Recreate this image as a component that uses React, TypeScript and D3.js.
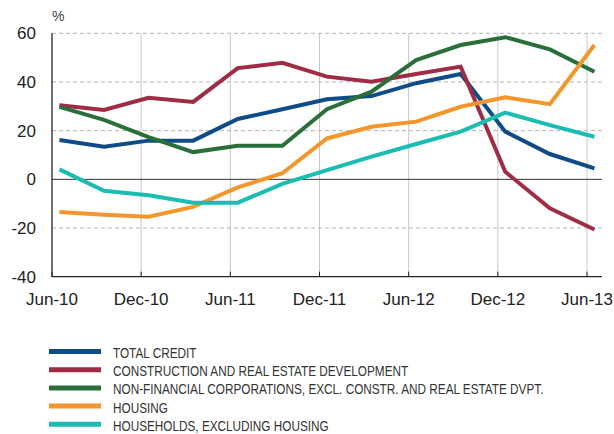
import { useMemo } from "react";
import * as d3 from "d3";

// quarterly observations, Jun-10 .. Jun-13
const periods = ["Jun-10", "Sep-10", "Dec-10", "Mar-11", "Jun-11", "Sep-11", "Dec-11", "Mar-12", "Jun-12", "Sep-12", "Dec-12", "Mar-13", "Jun-13"];
const tickLabels = ["Jun-10", "Dec-10", "Jun-11", "Dec-11", "Jun-12", "Dec-12", "Jun-13"];
const yTicks = [-40, -20, 0, 20, 40, 60];

const totalCredit = [16.2, 13.4, 15.9, 15.9, 24.8, 28.8, 32.9, 34.2, 39.5, 43.3, 19.6, 10.4, 4.5];
const construction = [30.4, 28.5, 33.5, 31.8, 45.7, 47.9, 42.2, 40.1, 43.3, 46.3, 3.1, -11.9, -20.6];
const nonFinancial = [29.8, 24.4, 17.3, 11.2, 13.8, 13.8, 28.8, 36.0, 49.0, 55.2, 58.4, 53.4, 44.2];
const housing = [-13.4, -14.5, -15.4, -11.3, -3.3, 2.5, 16.8, 21.6, 23.7, 29.8, 33.7, 30.9, 55.2];
const households = [4.1, -4.7, -6.5, -9.6, -9.6, -1.9, 3.8, 9.3, 14.5, 19.6, 27.4, 22.3, 17.5];

const seriesNames = [
  "TOTAL CREDIT",
  "CONSTRUCTION AND REAL ESTATE DEVELOPMENT",
  "NON-FINANCIAL CORPORATIONS, EXCL. CONSTR. AND REAL ESTATE DVPT.",
  "HOUSING",
  "HOUSEHOLDS, EXCLUDING HOUSING",
];
const seriesColors = ["#0e4c88", "#9f2b45", "#2a6f3a", "#f4962b", "#19bdb2"];

const W = 614;
const H = 434;
const FONT = "Liberation Sans, Arial, sans-serif";

export default function App() {
  const series = [totalCredit, construction, nonFinancial, housing, households];

  // month index: ticks at start of month (0, 6, ...), points at mid-month
  const x = d3.scaleLinear().domain([0, 36]).range([52, 587]);
  const y = d3.scaleLinear().domain([-40, 60]).range([276.7, 33.3]);
  const xEnd = x(37);

  const line = useMemo(
    () =>
      d3
        .line<number>()
        .x((_, i) => x(i * 3 + 0.5))
        .y((d) => y(d)),
    []
  );

  return (
    <svg width={W} height={H} style={{ position: "absolute", left: 0, top: 0, background: "#fff" }}>
      {/* vertical grid */}
      {tickLabels.map((t, i) => (
        <line key={t} x1={x(i * 6)} x2={x(i * 6)} y1={y(60)} y2={y(-40)} stroke="#c8c8c8" strokeWidth={1} />
      ))}
      {/* horizontal grid */}
      {yTicks
        .filter((v) => v !== 0 && v !== -40)
        .map((v) => (
          <line key={v} x1={x(0)} x2={xEnd} y1={y(v)} y2={y(v)} stroke="#b4b4b4" strokeWidth={1} strokeDasharray="4,3" />
        ))}
      <line x1={x(0)} x2={xEnd} y1={y(0)} y2={y(0)} stroke="#333" strokeWidth={1} />
      {/* axes */}
      <line x1={x(0)} x2={x(0)} y1={y(60)} y2={y(-40)} stroke="#222" strokeWidth={1.2} />
      <line x1={x(0)} x2={xEnd} y1={y(-40)} y2={y(-40)} stroke="#222" strokeWidth={1.2} />
      {tickLabels.map((t, i) => (
        <line key={"tk" + t} x1={x(i * 6)} x2={x(i * 6)} y1={y(-40)} y2={y(-40) - 5} stroke="#222" strokeWidth={1} />
      ))}

      {/* lines */}
      {series.map((s, i) => (
        <path key={seriesNames[i]} d={line(s) || ""} fill="none" stroke={seriesColors[i]} strokeWidth={4} strokeLinejoin="miter" />
      ))}

      {/* y labels */}
      {yTicks.map((v) => (
        <text key={"yl" + v} x={36} y={y(v) + 6} textAnchor="end" fontFamily={FONT} fontSize={17} fill="#222">
          {v}
        </text>
      ))}
      <text x={52} y={21} fontFamily={FONT} fontSize={14} fill="#444">
        %
      </text>
      {/* x labels */}
      {tickLabels.map((t, i) => {
        const last = i === tickLabels.length - 1;
        return (
          <text
            key={"xl" + t}
            x={last ? 613 : x(i * 6)}
            y={305}
            textAnchor={last ? "end" : "middle"}
            fontFamily={FONT}
            fontSize={17}
            fill="#222"
          >
            {t}
          </text>
        );
      })}

      {/* legend (condensed type) */}
      {seriesNames.map((n, i) => (
        <g key={"lg" + n} transform={`translate(0, ${358 + i * 18.2})`}>
          <line x1={49} x2={101} y1={-6.5} y2={-6.5} stroke={seriesColors[i]} strokeWidth={5} />
          <text transform="translate(113,0) scale(0.785,1)" fontFamily={FONT} fontSize={15} fill="#333">
            {n}
          </text>
        </g>
      ))}
    </svg>
  );
}
